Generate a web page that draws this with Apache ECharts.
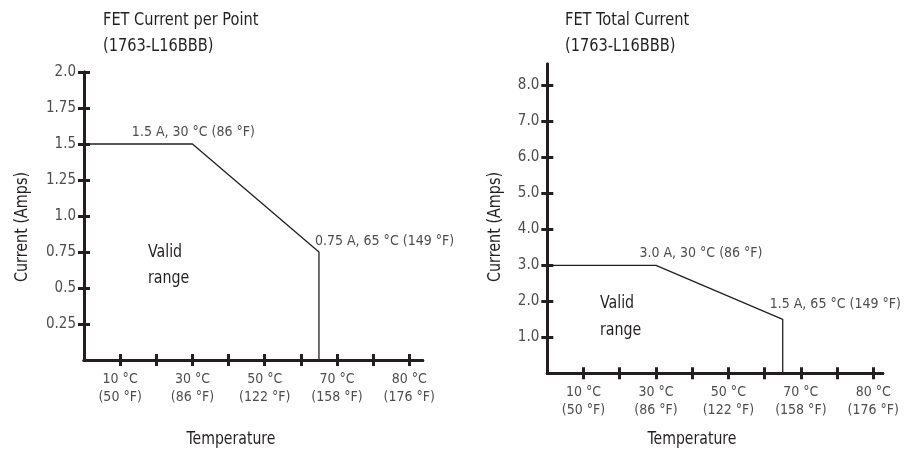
<!DOCTYPE html>
<html>
<head>
<meta charset="utf-8">
<script src="https://cdn.jsdelivr.net/npm/echarts@6/dist/echarts.min.js"></script>
<style>html,body{margin:0;padding:0;background:#fff}#c{width:910px;height:452px}</style>
</head>
<body>
<div id="c"></div>
<script>
// ---- data ----
var leftTitle = 'FET Current per Point\n(1763-L16BBB)';
var rightTitle = 'FET Total Current\n(1763-L16BBB)';
var leftSeries = [[0, 1.5], [30, 1.5], [65, 0.75], [65, 0]];
var rightSeries = [[0, 3.0], [30, 3.0], [65, 1.5], [65, 0]];
var leftNotes = ['', '1.5 A, 30 °C (86 °F)', '0.75 A, 65 °C (149 °F)', ''];
var rightNotes = ['', '3.0 A, 30 °C (86 °F)', '1.5 A, 65 °C (149 °F)', ''];
var xTickValues = [10, 20, 30, 40, 50, 60, 70, 80, 90];
var xLabelValues = [10, 30, 50, 70, 90];
var xLabelTexts = ['10 °C\n(50 °F)', '30 °C\n(86 °F)', '50 °C\n(122 °F)', '70 °C\n(158 °F)', '80 °C\n(176 °F)'];
var leftYTicks = [0.25, 0.5, 0.75, 1.0, 1.25, 1.5, 1.75, 2.0];
var leftYLabels = ['0.25', '0.5', '0.75', '1.0', '1.25', '1.5', '1.75', '2.0'];
var rightYTicks = [1, 2, 3, 4, 5, 6, 7, 8];
var rightYLabels = ['1.0', '2.0', '3.0', '4.0', '5.0', '6.0', '7.0', '8.0'];
var yName = 'Current (Amps)';
var xName = 'Temperature';
var regionText = 'Valid\nrange';

// ---- styles ----
var FONT = '"Liberation Sans Narrow","DejaVu Sans Condensed","Roboto",sans-serif';
var AX = '#231f20';
var GRAY = '#4d4d4d';

function xLabelFmt(v) {
  var i = xLabelValues.indexOf(v);
  return i >= 0 ? xLabelTexts[i] : '';
}
function yFmt(ticks, labels) {
  return function (v) {
    for (var i = 0; i < ticks.length; i++) if (Math.abs(ticks[i] - v) < 1e-9) return labels[i];
    return '';
  };
}
function mainX(gi, max) {
  return {
    type: 'value', gridIndex: gi, min: 0, max: max, position: 'bottom',
    splitLine: { show: false },
    axisLine: { show: true, lineStyle: { color: AX, width: 3 } },
    axisTick: { show: true, customValues: xTickValues, length: 6, lineStyle: { color: AX, width: 3 } },
    axisLabel: { show: true, customValues: xLabelValues, formatter: xLabelFmt, margin: 10,
      color: GRAY, fontFamily: FONT, fontSize: 14, lineHeight: 18 }
  };
}
function innerX(gi, max) {
  return {
    type: 'value', gridIndex: gi, min: 0, max: max, position: 'bottom', offset: 0,
    splitLine: { show: false },
    axisLine: { show: true, lineStyle: { color: AX, width: 3 } },
    axisTick: { show: true, inside: true, customValues: xTickValues, length: 6, lineStyle: { color: AX, width: 3 } },
    axisLabel: { show: false }
  };
}
function mainY(gi, max, ticks, labels) {
  return {
    type: 'value', gridIndex: gi, min: 0, max: max, position: 'left',
    splitLine: { show: false },
    axisLine: { show: true, lineStyle: { color: AX, width: 3 } },
    axisTick: { show: true, customValues: ticks, length: 6, lineStyle: { color: AX, width: 3 } },
    axisLabel: { show: true, customValues: ticks, formatter: yFmt(ticks, labels), margin: 8,
      color: GRAY, fontFamily: FONT, fontSize: 15 }
  };
}
function innerY(gi, max, ticks) {
  return {
    type: 'value', gridIndex: gi, min: 0, max: max, position: 'left', offset: 0,
    splitLine: { show: false },
    axisLine: { show: true, lineStyle: { color: AX, width: 3 } },
    axisTick: { show: true, inside: true, customValues: ticks, length: 6, lineStyle: { color: AX, width: 3 } },
    axisLabel: { show: false }
  };
}
function buildData(points, notes, labelCfgs) {
  return points.map(function (p, i) {
    var d = { value: p };
    if (notes[i]) {
      var c = labelCfgs[i];
      d.label = { show: true, formatter: notes[i], position: 'top', align: c.align, offset: c.offset, distance: c.distance,
        color: GRAY, fontFamily: FONT, fontSize: 14 };
    }
    return d;
  });
}

var leftLabelCfg = [null, { align: 'center', offset: [1, 0], distance: 5 }, { align: 'left', offset: [-4, 0], distance: 4 }, null];
var rightLabelCfg = [null, { align: 'center', offset: [45, 0], distance: 5 }, { align: 'left', offset: [-13, 0], distance: 8 }, null];

var chart = echarts.init(document.getElementById('c'), null, { renderer: 'canvas' });
chart.setOption({
  animation: false,
  backgroundColor: '#ffffff',
  grid: [
    { left: 84, top: 72, width: 338.7, height: 288 },
    { left: 547.3, top: 64, width: 335.4, height: 309.3 }
  ],
  xAxis: [mainX(0, 93.7), mainX(1, 92.6), innerX(0, 93.7), innerX(1, 92.6)],
  yAxis: [mainY(0, 2.0, leftYTicks, leftYLabels), mainY(1, 8.6, rightYTicks, rightYLabels),
          innerY(0, 2.0, leftYTicks), innerY(1, 8.6, rightYTicks)],
  series: [
    { type: 'line', xAxisIndex: 0, yAxisIndex: 0, symbol: 'circle', symbolSize: 0, showSymbol: true,
      lineStyle: { color: AX, width: 1.3 }, itemStyle: { color: AX }, z: 1,
      data: buildData(leftSeries, leftNotes, leftLabelCfg) },
    { type: 'line', xAxisIndex: 1, yAxisIndex: 1, symbol: 'circle', symbolSize: 0, showSymbol: true,
      lineStyle: { color: AX, width: 1.3 }, itemStyle: { color: AX }, z: 1,
      data: buildData(rightSeries, rightNotes, rightLabelCfg) }
  ],
  graphic: [
    { type: 'text', x: 103, y: 7, scaleX: 0.9, style: { text: leftTitle, fill: '#231f20', font: '18px ' + FONT, lineHeight: 26 } },
    { type: 'text', x: 565, y: 7, scaleX: 0.9, style: { text: rightTitle, fill: '#231f20', font: '18px ' + FONT, lineHeight: 26 } },
    { type: 'text', x: 23, y: 227, rotation: Math.PI / 2, scaleX: 0.94, style: { text: yName, fill: '#231f20', font: '17px ' + FONT, align: 'center', verticalAlign: 'middle' } },
    { type: 'text', x: 496, y: 227, rotation: Math.PI / 2, scaleX: 0.94, style: { text: yName, fill: '#231f20', font: '17px ' + FONT, align: 'center', verticalAlign: 'middle' } },
    { type: 'text', x: 231, y: 440, scaleX: 0.92, style: { text: xName, fill: '#231f20', font: '17px ' + FONT, align: 'center', verticalAlign: 'middle' } },
    { type: 'text', x: 692, y: 440, scaleX: 0.92, style: { text: xName, fill: '#231f20', font: '17px ' + FONT, align: 'center', verticalAlign: 'middle' } },
    { type: 'text', x: 148, y: 240, scaleX: 0.93, style: { text: regionText, fill: '#231f20', font: '17px ' + FONT, lineHeight: 26 } },
    { type: 'text', x: 600, y: 290, scaleX: 0.93, style: { text: regionText, fill: '#231f20', font: '17px ' + FONT, lineHeight: 27 } }
  ]
});
</script>
</body>
</html>
